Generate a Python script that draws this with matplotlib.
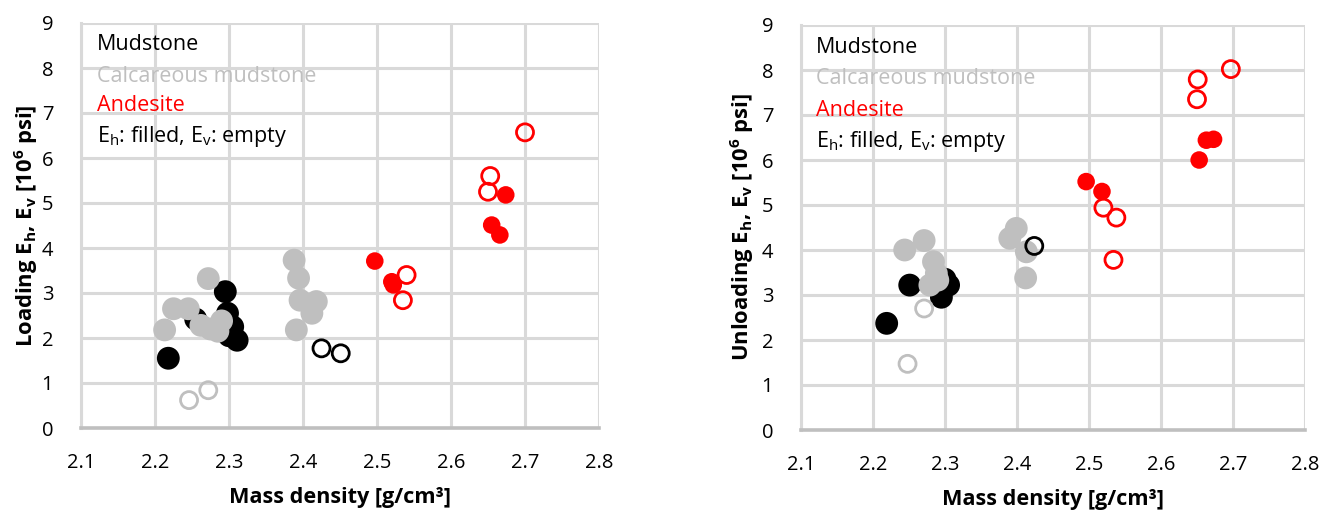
import matplotlib
matplotlib.use("Agg")
import matplotlib.pyplot as plt
import numpy as np

plt.rcParams['font.family'] = ['Open Sans', 'DejaVu Sans']
plt.rcParams['mathtext.fontset'] = 'custom'
plt.rcParams['mathtext.rm'] = 'Open Sans'
plt.rcParams['mathtext.it'] = 'Open Sans:italic'
plt.rcParams['mathtext.bf'] = 'Open Sans:bold'

# ---------------- data: Loading panel ----------------
load_mud_h_x = [2.218, 2.255, 2.295, 2.298, 2.305, 2.300, 2.311]
load_mud_h_y = [1.55, 2.42, 3.03, 2.55, 2.25, 2.05, 1.95]
load_mud_v_x = [2.425, 2.451]
load_mud_v_y = [1.77, 1.66]
load_calc_h_x = [2.272, 2.225, 2.245, 2.213, 2.262, 2.275, 2.290, 2.285,
                 2.388, 2.394, 2.396, 2.418, 2.412, 2.391]
load_calc_h_y = [3.32, 2.65, 2.65, 2.18, 2.28, 2.20, 2.38, 2.15,
                 3.73, 3.33, 2.84, 2.81, 2.55, 2.18]
load_calc_v_x = [2.246, 2.272]
load_calc_v_y = [0.62, 0.84]
load_and_h_x = [2.497, 2.520, 2.522, 2.655, 2.666, 2.674]
load_and_h_y = [3.71, 3.25, 3.18, 4.51, 4.29, 5.18]
load_and_v_x = [2.540, 2.535, 2.653, 2.650, 2.700]
load_and_v_y = [3.40, 2.84, 5.60, 5.25, 6.57]

# ---------------- data: Unloading panel ----------------
unl_mud_h_x = [2.219, 2.251, 2.295, 2.305, 2.300]
unl_mud_h_y = [2.37, 3.22, 2.95, 3.22, 3.35]
unl_mud_v_x = [2.424]
unl_mud_v_y = [4.09]
unl_calc_h_x = [2.244, 2.271, 2.284, 2.288, 2.279, 2.290,
                2.399, 2.390, 2.413, 2.412]
unl_calc_h_y = [4.00, 4.21, 3.74, 3.48, 3.22, 3.33,
                4.48, 4.26, 3.96, 3.38]
unl_calc_v_x = [2.271, 2.248]
unl_calc_v_y = [2.70, 1.47]
unl_and_h_x = [2.496, 2.518, 2.653, 2.663, 2.673]
unl_and_h_y = [5.52, 5.30, 6.00, 6.44, 6.46]
unl_and_v_x = [2.520, 2.538, 2.534, 2.650, 2.651, 2.697]
unl_and_v_y = [4.94, 4.72, 3.78, 7.35, 7.79, 8.02]

x_ticks = [2.1, 2.2, 2.3, 2.4, 2.5, 2.6, 2.7, 2.8]
y_ticks = [0, 1, 2, 3, 4, 5, 6, 7, 8, 9]
legend_labels = ["Mudstone", "Calcareous mudstone", "Andesite",
                 r"E$_\mathrm{h}$: filled, E$_\mathrm{v}$: empty"]

BLACK = "#000000"
GRAY = "#bfbfbf"
RED = "#ff0000"
GRID = "#d9d9d9"

fig = plt.figure(figsize=(13.33, 5.15), dpi=100)
axL = fig.add_axes([81/1333, 1-428/515, 518/1333, 405/515])
axR = fig.add_axes([801/1333, 1-430/515, 504/1333, 405/515])

def draw(ax, d, ylabel, legend_y, ylab_x):
    (mhx, mhy, mvx, mvy, chx, chy, cvx, cvy, ahx, ahy, avx, avy) = d
    big = 270
    hollow = 150
    ax.scatter(mhx, mhy, s=big, c=BLACK, edgecolors='none', zorder=3)
    ax.scatter(chx, chy, s=big, c=GRAY, edgecolors='none', zorder=4)
    ax.scatter(mvx, mvy, s=hollow, facecolors='none', edgecolors=BLACK, linewidths=2, zorder=5)
    ax.scatter(cvx, cvy, s=hollow, facecolors='none', edgecolors=GRAY, linewidths=2, zorder=5)
    ax.scatter(ahx, ahy, s=160, c=RED, edgecolors='none', zorder=6)
    ax.scatter(avx, avy, s=hollow, facecolors='none', edgecolors=RED, linewidths=2, zorder=7)

    ax.set_xlim(2.1, 2.8)
    ax.set_ylim(0, 9)
    ax.set_xticks(x_ticks)
    ax.set_xticklabels([f"{v:.1f}" for v in x_ticks])
    ax.set_yticks(y_ticks)
    ax.grid(True, color=GRID, linewidth=2.2, zorder=0)
    ax.set_axisbelow(True)
    for s in ['top', 'right']:
        ax.spines[s].set_visible(False)
    ax.spines['left'].set_color(GRID)
    ax.spines['left'].set_linewidth(2.2)
    ax.spines['bottom'].set_color('#bfbfbf')
    ax.spines['bottom'].set_linewidth(2.6)
    ax.tick_params(length=0, labelsize=14.5, colors='black')
    ax.tick_params(axis='x', pad=18)
    ax.tick_params(axis='y', pad=20)
    ax.set_xlabel("Mass density [g/cm³]", fontsize=15.6, fontweight='bold', labelpad=10)
    ax.set_ylabel(ylabel, fontsize=15.8, fontweight='bold')
    ax.yaxis.set_label_coords(ylab_x, 0.5)
    colors = [BLACK, GRAY, RED, BLACK]
    for lab, col, yy in zip(legend_labels, colors, legend_y):
        ax.text(2.121, yy, lab, color=col, fontsize=15.5, va='center', ha='left', zorder=8)

draw(axL, (load_mud_h_x, load_mud_h_y, load_mud_v_x, load_mud_v_y,
           load_calc_h_x, load_calc_h_y, load_calc_v_x, load_calc_v_y,
           load_and_h_x, load_and_h_y, load_and_v_x, load_and_v_y),
     r"Loading E$_\mathbf{h}$, E$_\mathbf{v}$ [10$^\mathbf{6}$ psi]",
     [8.53, 7.82, 7.16, 6.47], -0.08)
draw(axR, (unl_mud_h_x, unl_mud_h_y, unl_mud_v_x, unl_mud_v_y,
           unl_calc_h_x, unl_calc_h_y, unl_calc_v_x, unl_calc_v_y,
           unl_and_h_x, unl_and_h_y, unl_and_v_x, unl_and_v_y),
     r"Unloading E$_\mathbf{h}$, E$_\mathbf{v}$ [10$^\mathbf{6}$ psi]",
     [8.51, 7.80, 7.11, 6.42], -0.089)

fig.savefig("out.png", dpi=100)
